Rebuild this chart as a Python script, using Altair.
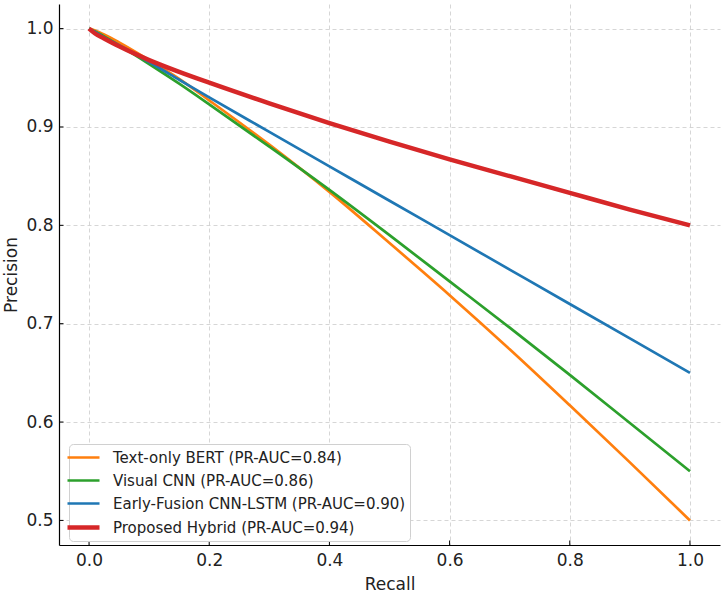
import altair as alt
import pandas as pd

recall = [0, 0.01, 0.025, 0.05, 0.1, 0.15, 0.2, 0.3, 0.4, 0.5, 0.6, 0.7, 0.8, 0.9, 1.0]
text_bert = [1.0, 0.998, 0.994, 0.986, 0.968, 0.949, 0.927, 0.882, 0.834, 0.782, 0.729, 0.674, 0.617, 0.559, 0.50]
visual_cnn = [1.0, 0.997, 0.992, 0.983, 0.964, 0.944, 0.923, 0.880, 0.836, 0.790, 0.743, 0.696, 0.648, 0.599, 0.55]
early_fusion = [1.0, 0.9965, 0.991, 0.983, 0.966, 0.948, 0.930, 0.895, 0.860, 0.825, 0.790, 0.755, 0.720, 0.685, 0.65]
hybrid = [1.0, 0.995, 0.990, 0.982, 0.968, 0.956, 0.945, 0.924, 0.904, 0.885, 0.867, 0.850, 0.833, 0.816, 0.80]

names = [
    "Text-only BERT (PR-AUC=0.84)",
    "Visual CNN (PR-AUC=0.86)",
    "Early-Fusion CNN-LSTM (PR-AUC=0.90)",
    "Proposed Hybrid (PR-AUC=0.94)",
]
colors = ["#ff7f0e", "#2ca02c", "#1f77b4", "#d62728"]
widths = [2.7, 2.7, 2.7, 4.5]

x_ticks = [0.0, 0.2, 0.4, 0.6, 0.8, 1.0]
y_ticks = [0.5, 0.6, 0.7, 0.8, 0.9, 1.0]

rows = []
for i, (name, vals) in enumerate(zip(names, [text_bert, visual_cnn, early_fusion, hybrid])):
    for r, p in zip(recall, vals):
        rows.append({"series": name, "recall": r, "precision": p, "ord": i})
df = pd.DataFrame(rows)

W, H = 661, 541

xscale = alt.Scale(domain=[-0.05, 1.05], nice=False, zero=False)
yscale = alt.Scale(domain=[0.475, 1.025], nice=False, zero=False)

leg = alt.Legend(title=None, orient="none", legendX=10, legendY=440,
                 symbolType="M-2,0H2", symbolSize=256,
                 labelFontSize=15, labelOffset=19, rowPadding=5,
                 padding=4, fillColor="white", strokeColor="#d0d0d0",
                 cornerRadius=4, labelLimit=400, labelColor="#222222")

lines = alt.Chart(df).mark_line(interpolate="monotone", strokeCap="butt").encode(
    x=alt.X("recall:Q", scale=xscale, title="Recall",
            axis=alt.Axis(values=x_ticks, format=".1f", ticks=False, tickSize=0,
                          labelPadding=7, titlePadding=8)),
    y=alt.Y("precision:Q", scale=yscale, title="Precision",
            axis=alt.Axis(values=y_ticks, format=".1f", ticks=False, tickSize=0,
                          labelPadding=6, titlePadding=5)),
    color=alt.Color("series:N", scale=alt.Scale(domain=names, range=colors), legend=leg),
    strokeWidth=alt.StrokeWidth("series:N",
                                scale=alt.Scale(type="ordinal", domain=names, range=widths),
                                legend=leg),
    detail="series:N",
    order="ord:Q",
)

xt = alt.Chart(pd.DataFrame({"v": x_ticks})).mark_rule(color="black", strokeWidth=1).encode(
    x=alt.X("v:Q", scale=xscale), y=alt.value(H), y2=alt.value(H - 4.5))
yt = alt.Chart(pd.DataFrame({"v": y_ticks})).mark_rule(color="black", strokeWidth=1).encode(
    y=alt.Y("v:Q", scale=yscale), x=alt.value(0), x2=alt.value(4.5))

chart = alt.layer(lines, xt, yt).properties(
    width=W, height=H,
    autosize=alt.AutoSizeParams(type="none"),
    padding={"left": 59, "top": 4, "right": 6, "bottom": 47},
).configure(font="DejaVu Sans").configure_view(stroke=None).configure_axis(
    domainColor="black", domainWidth=1.2, labelFontSize=17, titleFontSize=17,
    labelColor="#222222", titleColor="#222222", titleFontWeight="normal",
    gridColor="#cccccc", gridDash=[4, 3], gridWidth=0.8,
)

chart.save("out.html", embed_options={"renderer": "svg", "actions": False})
